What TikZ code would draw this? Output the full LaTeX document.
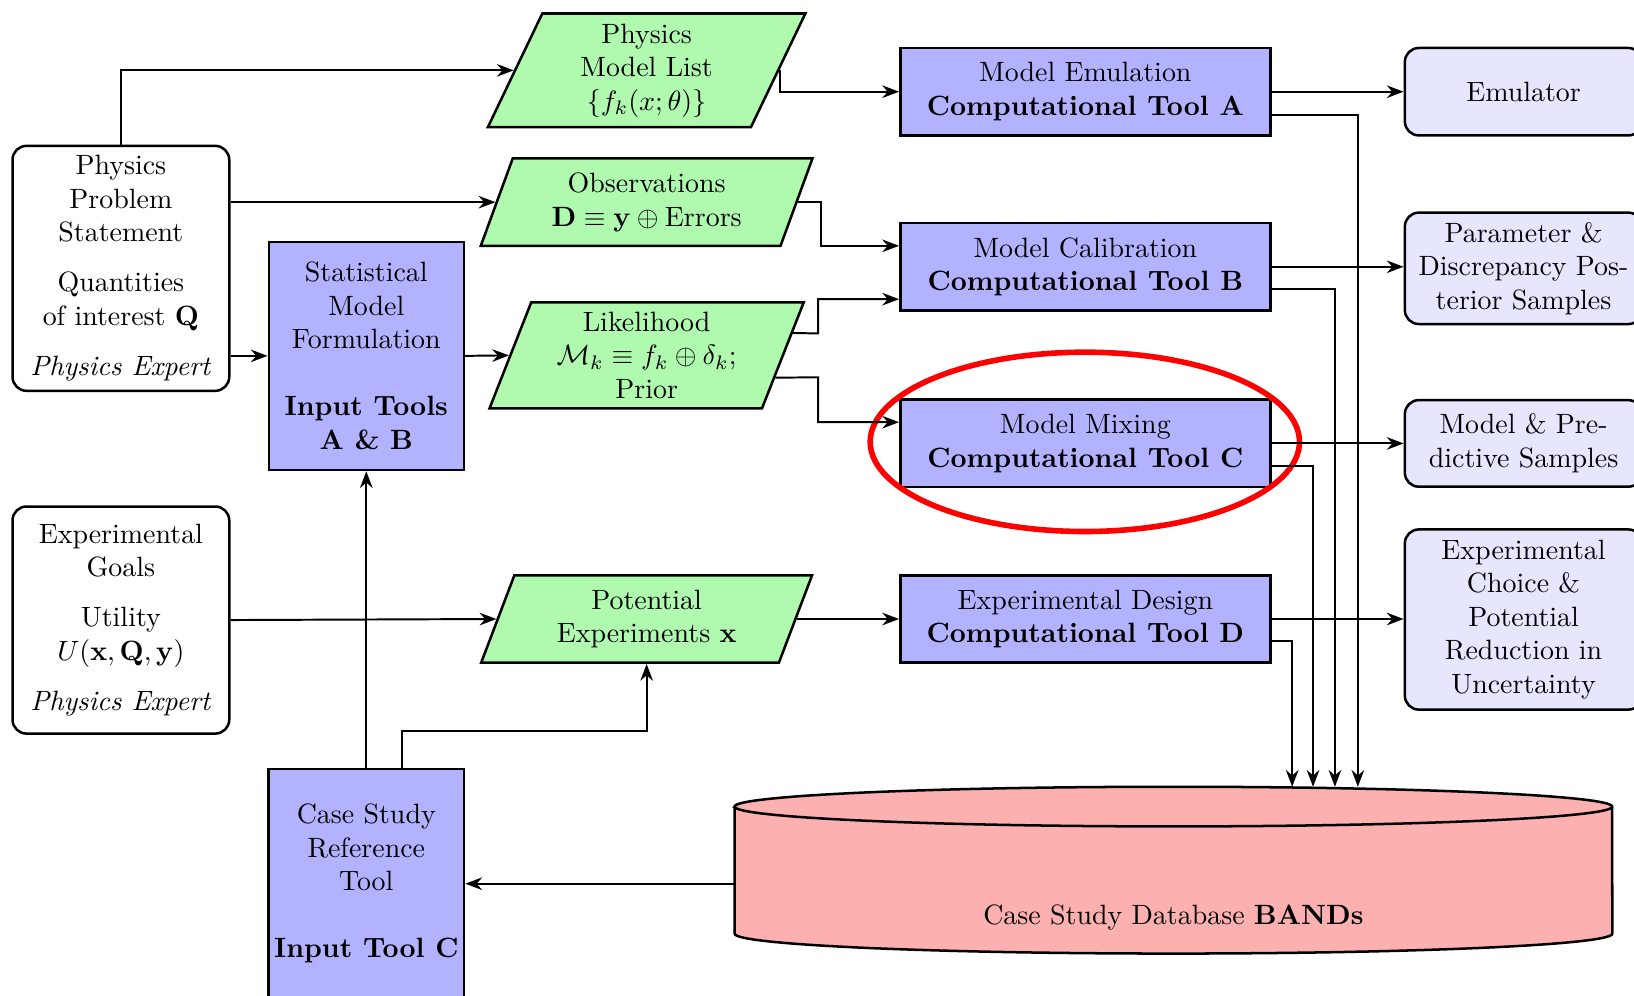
\documentclass[tikz,border=0pt]{standalone}
\usetikzlibrary{shapes.geometric,arrows.meta,calc}
\definecolor{toolblue}{RGB}{178,178,255}
\definecolor{paragreen}{RGB}{175,250,175}
\definecolor{outblue}{RGB}{230,230,255}
\definecolor{dbred}{RGB}{252,176,176}
\tikzset{
  expert/.style={draw, rounded corners=5pt, line width=0.9pt, align=center, fill=white, minimum width=77.6pt, inner sep=2pt},
  toolbox/.style={draw, fill=toolblue, line width=0.9pt, align=center, minimum width=132.5pt, minimum height=31.3pt, inner sep=2pt},
  inbox/.style={draw, fill=toolblue, line width=0.9pt, align=center, minimum width=69.8pt, inner sep=2pt},
  datapar/.style={trapezium, trapezium left angle=70, trapezium right angle=110, trapezium stretches=true, draw, fill=paragreen, line width=0.9pt, align=center, inner sep=1pt},
  outbox/.style={draw, fill=outblue, rounded corners=5pt, line width=0.9pt, align=center, minimum width=85pt, inner sep=2pt},
  arr/.style={-{Stealth[length=6pt,width=4.5pt]}, line width=0.7pt},
}
\begin{document}
\begin{tikzpicture}[x=0.3731pt, y=-0.3731pt]
\useasboundingbox (0,0) rectangle (1568,955);

% left expert boxes
\node[expert, minimum height=87.7pt] (pps) at (116,257.5) {Physics\\Problem\\Statement\\[6pt]Quantities\\of interest $\mathbf{Q}$\\[6pt]\textit{Physics Expert}};
\node[expert, minimum height=81.3pt] (eg) at (116,595) {Experimental\\Goals\\[6pt]Utility\\$U(\mathbf{x},\mathbf{Q},\mathbf{y})$\\[6pt]\textit{Physics Expert}};

% input tools
\node[inbox, minimum height=81.7pt] (smf) at (351.5,341.5) {Statistical\\Model\\Formulation\\[12pt]\textbf{Input Tools}\\\textbf{A \& B}};
\node[inbox, minimum height=82pt] (csr) at (351.5,848) {Case Study\\Reference\\Tool\\[12pt]\textbf{Input Tool C}};

% data parallelograms
\node[datapar, minimum width=114.5pt, minimum height=40.7pt] (pml) at (620.5,67.5) {Physics\\Model List\\$\{f_k(x;\theta)\}$};
\node[datapar, minimum width=119pt, minimum height=31.3pt] (obs) at (620.5,194) {Observations\\$\mathbf{D}\equiv\mathbf{y}\oplus{}$Errors};
\node[datapar, minimum width=113pt, minimum height=38pt] (lik) at (620.5,341) {Likelihood\\$\mathcal{M}_k\equiv f_k\oplus\delta_k$;\\Prior};
\node[datapar, minimum width=119pt, minimum height=31.3pt] (pe) at (620.5,594) {Potential\\Experiments $\mathbf{x}$};

% computational tools
\node[toolbox] (toolA) at (1041.5,88) {Model Emulation\\\textbf{Computational Tool A}};
\node[toolbox] (toolB) at (1041.5,256) {Model Calibration\\\textbf{Computational Tool B}};
\node[toolbox] (toolC) at (1041.5,425.5) {Model Mixing\\\textbf{Computational Tool C}};
\node[toolbox] (toolD) at (1041.5,594) {Experimental Design\\\textbf{Computational Tool D}};

% outputs
\node[outbox, minimum height=31.3pt] (emu) at (1462,88) {Emulator};
\node[outbox, minimum height=39.9pt] (par) at (1462,257.5) {Parameter \&\\Discrepancy Pos-\\terior Samples};
\node[outbox, minimum height=31pt] (mp) at (1462,425.5) {Model \& Pre-\\dictive Samples};
\node[outbox, minimum height=64.5pt] (ec) at (1462,594.5) {Experimental\\Choice \&\\Potential\\Reduction in\\Uncertainty};

% database cylinder
\path[draw=black, line width=0.9pt, fill=dbred] (705,774) -- (705,896)
  arc[start angle=180,end angle=360,x radius=157.1pt,y radius=7.1pt] -- (1547,774)
  arc[start angle=0,end angle=180,x radius=157.1pt,y radius=7.1pt] -- cycle;
\draw[line width=0.9pt] (705,774) arc[start angle=180,end angle=360,x radius=157.1pt,y radius=7.1pt];
\node (db) at (1126,880) {Case Study Database \textbf{BANDs}};
\coordinate (dbleft) at (705,848);
\coordinate (dbA) at (1303,755);
\coordinate (dbB) at (1281,755);
\coordinate (dbC) at (1260,755);
\coordinate (dbD) at (1240,755);

% highlight
\node[ellipse, draw=red, line width=2pt, minimum width=153.7pt, minimum height=64.2pt] (hl) at (1041,424) {};

% connectors
\draw[arr] (pps.north) |- (pml.west);
\draw[arr] (pps.east |- obs.west) -- (obs.west);
\draw[arr] (pps.east |- smf.west) -- (smf.west);
\draw[arr] (smf.east) -- (lik.west);
\draw[arr] (pml.east) |- (toolA.west);
\draw[arr] (obs.east) -- ++(22,0) |- ([yshift=7.5pt]toolB.west);
\draw[arr] ($(lik.top right corner)!0.294!(lik.bottom right corner)$) -- (785,320) |- ([yshift=-11.6pt]toolB.west);
\draw[arr] ($(lik.top right corner)!0.706!(lik.bottom right corner)$) -- (785,362) |- ([yshift=7.6pt]toolC.west);
\draw[arr] (pe.east) -- (toolD.west);
\draw[arr] (eg.east) -- (pe.west);
\draw[arr] (csr.north) -- (smf.south);
\draw[arr] ([xshift=12.7pt]csr.north) -- ++(0,-35) -| (pe.south);
\draw[arr] (dbleft) -- (csr.east);

\draw[arr] (toolA.east) -- (emu.west);
\draw[arr] (toolB.east) -- (toolB.east -| par.west);
\draw[arr] (toolC.east) -- (mp.west);
\draw[arr] (toolD.east) -- (toolD.east -| ec.west);

\draw[arr] ([yshift=-8.2pt]toolA.east) -| (dbA);
\draw[arr] ([yshift=-8pt]toolB.east) -| (dbB);
\draw[arr] ([yshift=-8pt]toolC.east) -| (dbC);
\draw[arr] ([yshift=-8pt]toolD.east) -| (dbD);
\end{tikzpicture}
\end{document}
